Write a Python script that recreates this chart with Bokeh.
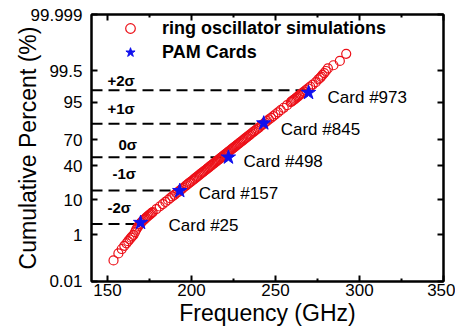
from statistics import NormalDist
from bokeh.plotting import figure
from bokeh.models import (ColumnDataSource, FixedTicker, LinearAxis, Range1d,
                          Legend, LegendItem)
from bokeh.embed import file_html
from bokeh.resources import INLINE
from bokeh.core.properties import value

# ---------------- data ----------------
sim_percent = [0.1, 0.2, 0.3, 0.4, 0.5, 0.6, 0.7, 0.8, 0.9,
               1.0, 1.25, 1.5, 1.75, 2.0, 2.25, 2.5, 2.75, 3.0, 3.25, 3.5, 3.75, 4.0, 4.25, 4.5, 4.75,
               5, 6, 7, 8, 9, 10, 11, 12, 13, 14,
               15, 16, 17, 18, 19, 20, 21, 22, 23, 24,
               25, 26, 27, 28, 29, 30, 31, 32, 33, 34,
               35, 36, 37, 38, 39, 40, 41, 42, 43, 44,
               45, 46, 47, 48, 49, 50, 51, 52, 53, 54,
               55, 56, 57, 58, 59, 60, 61, 62, 63, 64,
               65, 66, 67, 68, 69, 70, 71, 72, 73, 74,
               75, 76, 77, 78, 79, 80, 81, 82, 83, 84,
               85, 86, 87, 88, 89, 90, 91, 92, 93, 94,
               95, 95.25, 95.5, 95.75, 96.0, 96.25, 96.5, 96.75, 97.0, 97.25, 97.5,
               97.75, 98.0, 98.25, 98.5, 98.75,
               99.0, 99.1, 99.2, 99.3, 99.4, 99.5, 99.6, 99.7, 99.8, 99.9]
sim_freq = [153.6, 156.5, 158.5, 160.0, 161.3, 162.3, 163.2, 164.0, 164.8,
            165.5, 166.4, 167.1, 167.8, 168.5, 169.2, 170.0, 170.7, 171.5, 172.3, 173.0, 173.7, 174.4, 175.1, 175.7, 176.3,
            176.9, 179.1, 181.1, 182.9, 184.5, 186.0, 187.3, 188.6, 189.9, 191.0,
            192.1, 193.2, 194.2, 195.1, 196.1, 196.9, 197.8, 198.7, 199.5, 200.4,
            201.2, 201.9, 202.7, 203.4, 204.2, 204.9, 205.6, 206.3, 207.0, 207.7,
            208.4, 209.1, 209.7, 210.4, 211.0, 211.7, 212.3, 212.9, 213.6, 214.2,
            214.9, 215.5, 216.1, 216.8, 217.4, 218.0, 218.6, 219.3, 219.9, 220.5,
            221.2, 221.8, 222.4, 223.1, 223.7, 224.3, 225.0, 225.6, 226.3, 226.9,
            227.6, 228.3, 229.0, 229.7, 230.4, 231.1, 231.8, 232.6, 233.3, 234.1,
            234.9, 235.6, 236.5, 237.3, 238.2, 239.1, 240.0, 240.9, 241.9, 242.9,
            243.9, 245.0, 246.1, 247.4, 248.7, 250.0, 251.5, 253.1, 254.9, 256.9,
            259.1, 259.7, 260.4, 261.1, 261.8, 262.5, 263.3, 264.1, 265.0, 266.0, 267.0,
            268.1, 269.4, 270.7, 272.2, 274.0,
            275.5, 276.5, 277.2, 278.0, 279.0, 280.0, 281.2, 284.5, 288.3, 292.1]

card_names = ["Card #973", "Card #845", "Card #498", "Card #157", "Card #25"]
card_percent = [97.3, 84.5, 49.8, 15.7, 2.5]
card_freq = [269.7, 243.0, 222.0, 193.0, 169.7]

sigma_names = ["+2\u03c3", "+1\u03c3", "0\u03c3", "-1\u03c3", "-2\u03c3"]
sigma_levels = [2, 1, 0, -1, -2]

y_tick_percent = [0.01, 1, 10, 40, 70, 95, 99.5, 99.999]
y_tick_labels = ["0.01", "1", "10", "40", "70", "95", "99.5", "99.999"]
x_ticks = [150, 200, 250, 300, 350]
x_minor_ticks = [175, 225, 275, 325]

# ---------------- layout / style ----------------
FONT = "Liberation Sans"
ND = NormalDist()


def probit(pct):
    return ND.inv_cdf(pct / 100.0)


X0, X1 = 140.5, 350.0
Y0, Y1 = probit(0.01), probit(99.999)
EPS = 1e-6

sigma_dx = [16, 16, 27, 21, 16]
sigma_dy = [-10, -15, -13, -17, -17]
card_dx = [19, 17, 15, 19, 28]
card_dy = [5, 6, 4, 3, 3]

p = figure(width=455, height=332, output_backend="svg", toolbar_location=None,
           x_range=Range1d(X0, X1 + EPS), y_range=Range1d(Y0 - EPS, Y1 + EPS),
           min_border_left=91, min_border_right=12, min_border_top=14,
           min_border_bottom=51, background_fill_color="white",
           border_fill_color="white")
p.grid.visible = False
p.outline_line_color = "black"
p.outline_line_width = 2

y_tick_z = [probit(v) for v in y_tick_percent]
overrides = {z: lab for z, lab in zip(y_tick_z, y_tick_labels)}


def style_axis(ax, show_labels):
    ax.axis_line_width = 2
    ax.axis_line_color = "black"
    ax.major_tick_in = 6
    ax.major_tick_out = 0
    ax.minor_tick_in = 3
    ax.minor_tick_out = 0
    ax.major_tick_line_width = 2
    ax.minor_tick_line_width = 2
    ax.major_label_text_font = FONT
    if show_labels:
        ax.major_label_text_color = "black"
        ax.major_label_text_font_size = "17px"
    else:
        ax.major_label_text_color = None
        ax.major_label_text_font_size = "0px"
        ax.major_label_standoff = 0


xt = FixedTicker(ticks=x_ticks, minor_ticks=x_minor_ticks)
yt = FixedTicker(ticks=y_tick_z)

p.xaxis.ticker = xt
p.yaxis.ticker = yt
p.yaxis.major_label_overrides = overrides
style_axis(p.xaxis[0], True)
style_axis(p.yaxis[0], True)
p.xaxis.major_label_standoff = 2
p.yaxis.major_label_standoff = 9

p.xaxis.axis_label = "Frequency (GHz)"
p.yaxis.axis_label = "Cumulative Percent (%)"
for ax in (p.xaxis[0], p.yaxis[0]):
    ax.axis_label_text_font = FONT
    ax.axis_label_text_font_size = "23px"
    ax.axis_label_text_font_style = "normal"
    ax.axis_label_text_color = "black"
p.xaxis.axis_label_standoff = 1
p.yaxis.axis_label_standoff = -13

top = LinearAxis(ticker=FixedTicker(ticks=x_ticks, minor_ticks=x_minor_ticks))
style_axis(top, False)
p.add_layout(top, "above")
right = LinearAxis(ticker=FixedTicker(ticks=y_tick_z))
style_axis(right, False)
p.add_layout(right, "right")

# sigma dashed lines (to the card at that level)
sig_src = ColumnDataSource(dict(
    x0=[X0] * len(sigma_levels), x1=card_freq, y=sigma_levels,
    name=sigma_names, dx=sigma_dx, dy=sigma_dy))
p.segment(x0="x0", y0="y", x1="x1", y1="y", source=sig_src,
          line_color="black", line_width=2, line_dash="11 6")
p.text(x="x0", y="y", text="name", source=sig_src, x_offset="dx", y_offset="dy",
       text_font=value(FONT), text_font_size="15px", text_font_style="bold",
       text_align="left", text_baseline="middle", text_color="black")

# simulations
sim_src = ColumnDataSource(dict(f=sim_freq, z=[probit(v) for v in sim_percent]))
r_sim = p.scatter(x="f", y="z", source=sim_src, marker="circle", size=9,
                  fill_color=None, line_color="#ec1018", line_width=1.2)

# cards
card_src = ColumnDataSource(dict(f=card_freq, z=[probit(v) for v in card_percent],
                                 name=card_names, dx=card_dx, dy=card_dy))
r_card = p.scatter(x="f", y="z", source=card_src, marker="star", size=15,
                   fill_color="#1010ee", line_color="#1010ee")
p.text(x="f", y="z", text="name", source=card_src, x_offset="dx", y_offset="dy",
       text_font=value(FONT), text_font_size="17px", text_align="left",
       text_baseline="middle", text_color="black")

legend = Legend(items=[LegendItem(label="ring oscillator simulations", renderers=[r_sim]),
                       LegendItem(label="PAM Cards", renderers=[r_card])],
                location=(27, 217), border_line_color=None,
                background_fill_alpha=0, padding=0, margin=0, spacing=0,
                glyph_width=24, glyph_height=24, label_height=24,
                label_standoff=20, label_text_font=FONT,
                label_text_font_size="18px", label_text_font_style="bold",
                label_text_color="black")
p.add_layout(legend)

open("out.html", "w").write(file_html(p, INLINE))
